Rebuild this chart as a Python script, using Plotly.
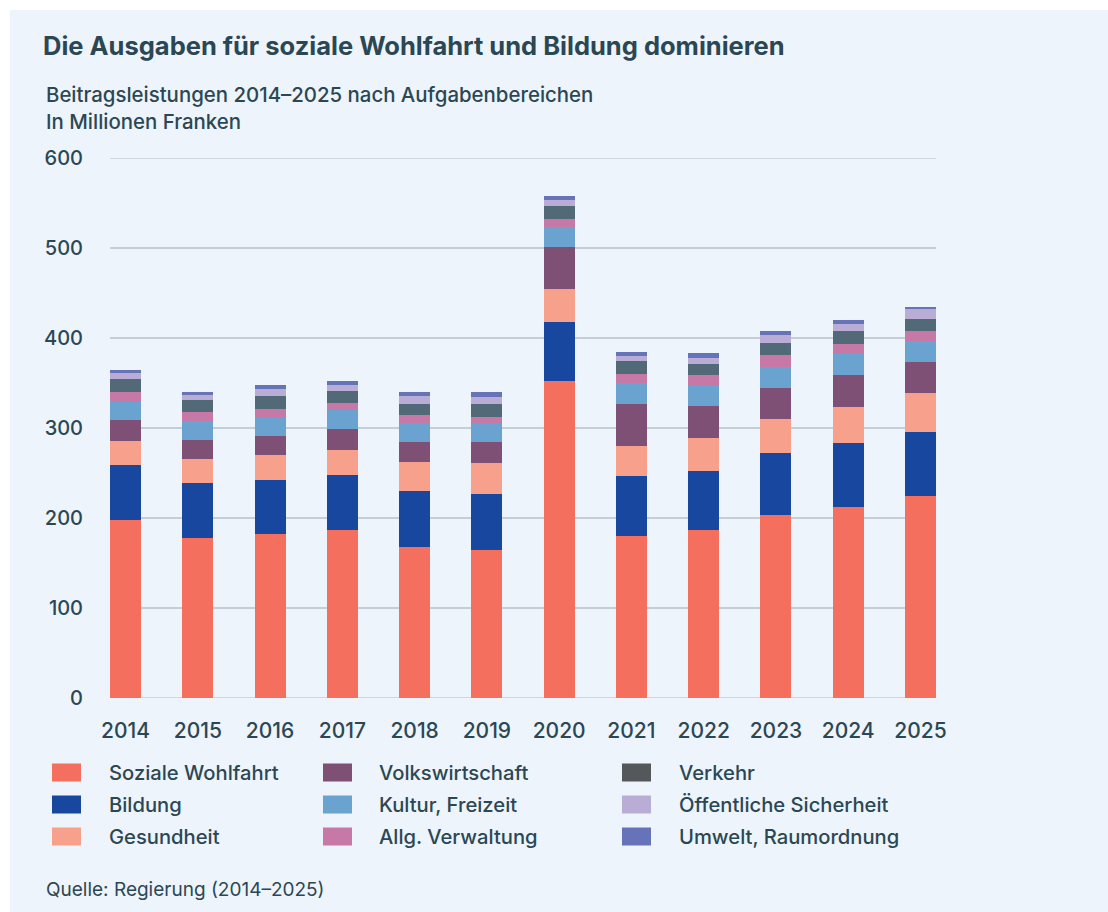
import plotly.graph_objects as go

years = ["2014", "2015", "2016", "2017", "2018", "2019", "2020", "2021", "2022", "2023", "2024", "2025"]

soziale_wohlfahrt = [198, 178, 182, 187, 168, 164, 352, 180, 187, 203, 212, 224]
bildung = [61, 61, 60, 61, 62, 63, 66, 67, 65.5, 69, 71, 71.5]
gesundheit = [27, 27, 28, 28, 32, 34, 36, 33, 36.5, 38, 40, 43]
volkswirtschaft = [23, 21, 21, 23, 23, 23, 47, 47, 35.5, 34.5, 35.5, 34.5]
kultur_freizeit = [20, 21, 21, 21, 21, 22, 22, 23, 23.5, 23.5, 24.5, 23.5]
allg_verwaltung = [11, 10, 9, 8, 8, 6.5, 9, 10, 11, 13, 10, 11]
verkehr = [14, 13, 14.5, 13, 13, 14.5, 14.5, 14.5, 12, 13.5, 14.5, 13.5]
oeff_sicherheit = [7, 6, 8, 7, 9, 8, 6.5, 5.5, 7, 9, 8, 11]
umwelt_raumordnung = [3, 3, 4.5, 4, 4, 4.5, 4.5, 4.5, 5.5, 4.5, 4.5, 2.5]

series_names = ["Soziale Wohlfahrt", "Bildung", "Gesundheit", "Volkswirtschaft", "Kultur, Freizeit",
                "Allg. Verwaltung", "Verkehr", "Öffentliche Sicherheit", "Umwelt, Raumordnung"]
series_values = [soziale_wohlfahrt, bildung, gesundheit, volkswirtschaft, kultur_freizeit,
                 allg_verwaltung, verkehr, oeff_sicherheit, umwelt_raumordnung]
bar_colors = ["#F46F5E", "#17479E", "#F7A18C", "#7E5075", "#6AA3CF",
              "#C678A6", "#526A78", "#BAADD5", "#6673B8"]
legend_colors = ["#F46F5E", "#17479E", "#F7A18C", "#7E5075", "#6AA3CF",
                 "#C678A6", "#55585B", "#BAADD5", "#6673B8"]
y_ticks = [0, 100, 200, 300, 400, 500, 600]

TEXT = "#2C4754"
FONT = "Inter"
W, H = 1108, 912
L, R, T, B = 110, 936, 158, 698  # plot area in pixels

def px(x):
    return (x - L) / (R - L)

def py(y):
    return (B - y) / (B - T)

fig = go.Figure()
for name, vals, col in zip(series_names, series_values, bar_colors):
    fig.add_trace(go.Bar(x=years, y=vals, name=name, marker=dict(color=col, line=dict(width=0)),
                         showlegend=False))

shapes = []
annotations = []

# panel background
shapes.append(dict(type="rect", xref="paper", yref="paper", x0=px(10), x1=px(W + 5), y0=py(H + 5), y1=py(10),
                   fillcolor="#EDF4FB", line=dict(width=0), layer="below"))
# edge gridlines (0 and 600)
for yv in (y_ticks[0], y_ticks[-1]):
    shapes.append(dict(type="line", xref="paper", yref="y", x0=0, x1=1, y0=yv, y1=yv,
                       line=dict(color="#C4CED7", width=1.5), layer="below"))

# title & subtitle
annotations.append(dict(text="Die Ausgaben für soziale Wohlfahrt und Bildung dominieren",
                        xref="paper", yref="paper", x=px(41), y=py(45), xanchor="left", yanchor="middle",
                        showarrow=False, font=dict(family=FONT, size=25.5, color=TEXT, weight=700)))
annotations.append(dict(text="Beitragsleistungen 2014–2025 nach Aufgabenbereichen",
                        xref="paper", yref="paper", x=px(44), y=py(95), xanchor="left", yanchor="middle",
                        showarrow=False, font=dict(family=FONT, size=20.4, color=TEXT, weight=500)))
annotations.append(dict(text="In Millionen Franken",
                        xref="paper", yref="paper", x=px(44), y=py(121), xanchor="left", yanchor="middle",
                        showarrow=False, font=dict(family=FONT, size=20.4, color=TEXT, weight=500)))

# legend (3 columns, column-major)
col_sw_x = [52, 323, 622]
col_tx_x = [107, 377, 677]
row_y = [772.5, 804.5, 836.5]
for i, (name, col) in enumerate(zip(series_names, legend_colors)):
    c, r = i // 3, i % 3
    shapes.append(dict(type="rect", xref="paper", yref="paper",
                       x0=px(col_sw_x[c]), x1=px(col_sw_x[c] + 29),
                       y0=py(row_y[r] + 9), y1=py(row_y[r] - 9),
                       fillcolor=col, line=dict(width=0)))
    annotations.append(dict(text=name, xref="paper", yref="paper", x=px(col_tx_x[c]), y=py(row_y[r]),
                            xanchor="left", yanchor="middle", showarrow=False,
                            font=dict(family=FONT, size=20.2, color=TEXT, weight=500)))

annotations.append(dict(text="Quelle: Regierung (2014–2025)", xref="paper", yref="paper",
                        x=px(44), y=py(889), xanchor="left", yanchor="middle", showarrow=False,
                        font=dict(family=FONT, size=19, color=TEXT)))

fig.update_layout(
    width=W, height=H,
    margin=dict(l=L, r=W - R, t=T, b=H - B, pad=0),
    paper_bgcolor="white",
    plot_bgcolor="rgba(0,0,0,0)",
    barmode="stack",
    bargap=0.57,
    shapes=shapes,
    annotations=annotations,
    showlegend=False,
    font=dict(family=FONT, color=TEXT),
)
fig.update_xaxes(type="category", range=[-0.215, 11.215], showgrid=False, zeroline=False, showline=False,
                 ticks="outside", ticklen=14, tickcolor="rgba(0,0,0,0)",
                 tickfont=dict(family=FONT, size=21, color=TEXT, weight=500))
fig.update_yaxes(range=[0, 600], tickvals=y_ticks, showgrid=True, gridcolor="#C4CED7", gridwidth=1.5,
                 zeroline=False, showline=False, ticks="outside", ticklen=22, tickcolor="rgba(0,0,0,0)",
                 tickfont=dict(family=FONT, size=20, color=TEXT, weight=500))

fig.write_html("out.html")
